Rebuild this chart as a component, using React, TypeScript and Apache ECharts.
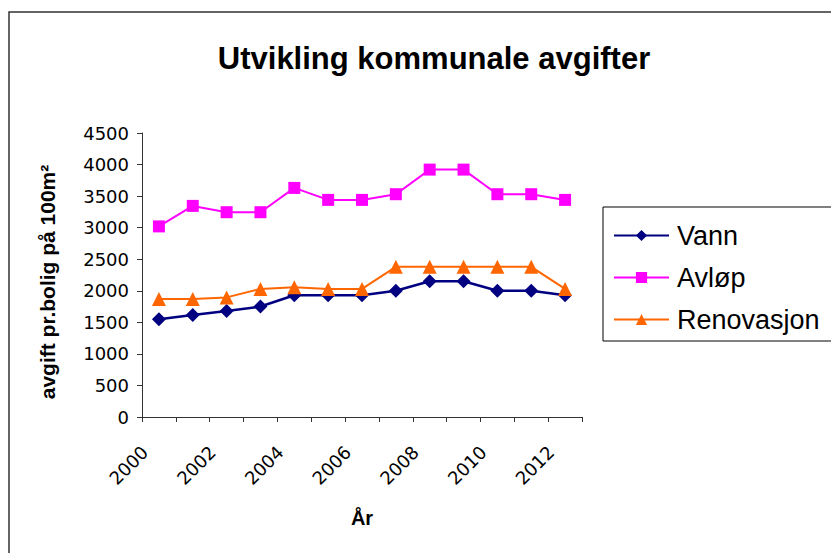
import React, { useEffect, useRef } from "react";
import * as echarts from "echarts";

const years = ["2000", "2001", "2002", "2003", "2004", "2005", "2006", "2007", "2008", "2009", "2010", "2011", "2012"];
const vann = [1550, 1615, 1680, 1750, 1930, 1930, 1930, 2000, 2150, 2150, 2000, 2000, 1930];
const avlop = [3020, 3345, 3245, 3245, 3630, 3440, 3440, 3530, 3920, 3920, 3530, 3530, 3440];
const renovasjon = [1870, 1870, 1895, 2030, 2055, 2030, 2030, 2380, 2380, 2380, 2380, 2380, 2030];
const seriesNames = ["Vann", "Avløp", "Renovasjon"];

export default function App() {
  const ref = useRef<HTMLDivElement>(null);
  useEffect(() => {
    if (!ref.current) return;
    const chart = echarts.init(ref.current, undefined, { renderer: "svg" });
    const font = "'Liberation Sans', Arial, sans-serif";
    chart.setOption({
      animation: false,
      backgroundColor: "#ffffff",
      title: {
        text: "Utvikling kommunale avgifter",
        left: 429,
        top: 38,
        textAlign: "center",
        textStyle: { fontFamily: font, fontSize: 31, fontWeight: "bold", color: "#000" },
      },
      grid: { left: 142, top: 133, width: 440, height: 284, containLabel: false },
      legend: {
        orient: "vertical",
        left: 613,
        top: 222,
        padding: 0,
        itemWidth: 55,
        itemHeight: 14,
        itemGap: 15,
        data: seriesNames,
        textStyle: { fontFamily: font, fontSize: 27, lineHeight: 27, color: "#000", padding: [0, 0, 0, 3] },
      },
      xAxis: {
        type: "category",
        data: years,
        boundaryGap: true,
        name: "År",
        nameLocation: "middle",
        nameGap: 91,
        nameTextStyle: { fontFamily: font, fontSize: 20, fontWeight: "bold", color: "#000" },
        axisLine: { lineStyle: { color: "#333", width: 1 } },
        axisTick: { show: true, interval: 0, length: 5, inside: false, lineStyle: { color: "#333" } },
        axisLabel: {
          interval: 1,
          rotate: 45,
          margin: 18,
          padding: [0, 20, 0, 0],
          fontFamily: "'DejaVu Sans', sans-serif",
          fontSize: 18,
          color: "#000",
        },
        splitLine: { show: false },
      },
      yAxis: {
        type: "value",
        min: 0,
        max: 4500,
        interval: 500,
        axisLine: { show: true, lineStyle: { color: "#333", width: 1 } },
        axisTick: { show: true, length: 5, lineStyle: { color: "#333" } },
        axisLabel: {
          margin: 13,
          fontFamily: "'DejaVu Sans', sans-serif",
          fontSize: 18,
          color: "#000",
          formatter: (v: number) => String(v),
        },
        splitLine: { show: false },
      },
      graphic: [
        {
          type: "rect",
          shape: { x: 9, y: 12, width: 840, height: 560 },
          style: { fill: "none", stroke: "#333", lineWidth: 1.5 },
          silent: true,
          z: -10,
        },
        {
          type: "rect",
          shape: { x: 603, y: 207, width: 240, height: 134 },
          style: { fill: "#fff", stroke: "#000", lineWidth: 1 },
          silent: true,
          z: -5,
        },
        {
          type: "text",
          x: 47,
          y: 282,
          rotation: Math.PI / 2,
          style: {
            text: "avgift pr.bolig på 100m²",
            fontFamily: font,
            fontSize: 21,
            fontWeight: "bold",
            fill: "#000",
            align: "center",
            verticalAlign: "middle",
          },
        },
      ],
      series: [
        {
          name: seriesNames[0],
          type: "line",
          data: vann,
          symbol: "diamond",
          symbolSize: 14,
          itemStyle: { color: "#000080" },
          lineStyle: { color: "#000080", width: 2.5 },
        },
        {
          name: seriesNames[1],
          type: "line",
          data: avlop,
          symbol: "rect",
          symbolSize: 12,
          itemStyle: { color: "#FF00FF" },
          lineStyle: { color: "#FF00FF", width: 2 },
        },
        {
          name: seriesNames[2],
          type: "line",
          data: renovasjon,
          symbol: "triangle",
          symbolSize: 14,
          itemStyle: { color: "#FF6600" },
          lineStyle: { color: "#FF6600", width: 2 },
        },
      ],
    });
    return () => chart.dispose();
  }, []);
  return <div ref={ref} style={{ position: "absolute", left: 0, top: 0, width: 831, height: 553 }} />;
}
